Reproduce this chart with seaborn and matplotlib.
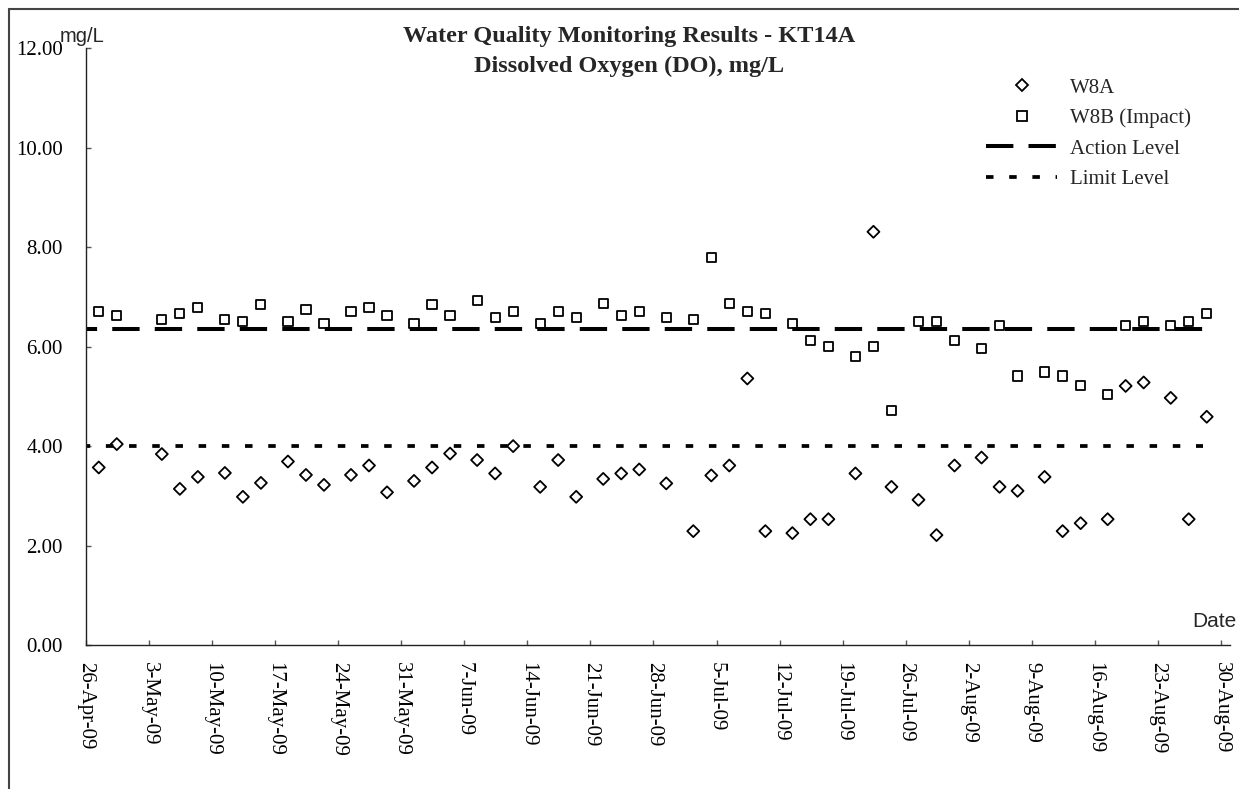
import matplotlib
matplotlib.use("Agg")
import matplotlib.pyplot as plt
from matplotlib.lines import Line2D
import seaborn as sns
import pandas as pd

# ---------------- data ----------------
sample_dates = [
    "2009-04-27", "2009-04-29", "2009-05-04", "2009-05-06", "2009-05-08",
    "2009-05-11", "2009-05-13", "2009-05-15", "2009-05-18", "2009-05-20",
    "2009-05-22", "2009-05-25", "2009-05-27", "2009-05-29", "2009-06-01",
    "2009-06-03", "2009-06-05", "2009-06-08", "2009-06-10", "2009-06-12",
    "2009-06-15", "2009-06-17", "2009-06-19", "2009-06-22", "2009-06-24",
    "2009-06-26", "2009-06-29", "2009-07-02", "2009-07-04", "2009-07-06",
    "2009-07-08", "2009-07-10", "2009-07-13", "2009-07-15", "2009-07-17",
    "2009-07-20", "2009-07-22", "2009-07-24", "2009-07-27", "2009-07-29",
    "2009-07-31", "2009-08-03", "2009-08-05", "2009-08-07", "2009-08-10",
    "2009-08-12", "2009-08-14", "2009-08-17", "2009-08-19", "2009-08-21",
    "2009-08-24", "2009-08-26", "2009-08-28",
]
sampling_time = "10:00"

w8a_do = [
    3.57, 4.04, 3.84, 3.14, 3.38, 3.46, 2.98, 3.26, 3.69, 3.42,
    3.22, 3.42, 3.61, 3.07, 3.30, 3.57, 3.85, 3.72, 3.45, 4.00,
    3.18, 3.72, 2.98, 3.34, 3.45, 3.53, 3.25, 2.29, 3.41, 3.61,
    5.36, 2.29, 2.25, 2.53, 2.53, 3.45, 8.31, 3.18, 2.92, 2.21,
    3.61, 3.77, 3.18, 3.10, 3.38, 2.29, 2.45, 2.53, 5.21, 5.28,
    4.97, 2.53, 4.59,
]
w8b_do = [
    6.70, 6.62, 6.55, 6.66, 6.78, 6.55, 6.51, 6.85, 6.51, 6.74,
    6.47, 6.70, 6.78, 6.62, 6.47, 6.85, 6.62, 6.92, 6.58, 6.70,
    6.47, 6.70, 6.58, 6.86, 6.62, 6.70, 6.58, 6.54, 7.79, 6.86,
    6.70, 6.67, 6.47, 6.12, 6.00, 5.80, 6.00, 4.72, 6.50, 6.50,
    6.12, 5.96, 6.43, 5.41, 5.49, 5.41, 5.22, 5.03, 6.43, 6.50,
    6.43, 6.50, 6.66,
]

action_level = 6.36
limit_level = 4.00
level_span = ["2009-04-26", "2009-08-28"]

tick_labels = [
    "26-Apr-09", "3-May-09", "10-May-09", "17-May-09", "24-May-09",
    "31-May-09", "7-Jun-09", "14-Jun-09", "21-Jun-09", "28-Jun-09",
    "5-Jul-09", "12-Jul-09", "19-Jul-09", "26-Jul-09", "2-Aug-09",
    "9-Aug-09", "16-Aug-09", "23-Aug-09", "30-Aug-09",
]
x_limits = ["2009-04-26", "2009-08-31"]
y_ticks = [0, 2, 4, 6, 8, 10, 12]

series_names = ["W8A", "W8B (Impact)"]
level_names = ["Action Level", "Limit Level"]

# ---------------- figure ----------------
sns.set_theme(style="ticks")
plt.rcParams["font.family"] = ["Liberation Serif", "DejaVu Serif"]
plt.rcParams["lines.scale_dashes"] = False

W, H = 1239, 789
fig = plt.figure(figsize=(W / 100, H / 100), dpi=100)
fig.patch.set_facecolor("white")

ax_left, ax_right, ax_bottom, ax_top = 86, 1230, 645, 48.3
ax = fig.add_axes([ax_left / W, 1 - ax_bottom / H,
                   (ax_right - ax_left) / W, (ax_bottom - ax_top) / H])
ax.set_facecolor("white")

df = pd.DataFrame({
    "date": pd.to_datetime([f"{d} {sampling_time}" for d in sample_dates]),
    series_names[0]: w8a_do,
    series_names[1]: w8b_do,
})

diamond_ms = 6.1
square_ms = 6.6
mew = 1.3

# level lines
span = pd.to_datetime(level_span)
ax.plot(span, [action_level] * 2, color="black", lw=2.9,
        linestyle=(11.7, (19.7, 10.9)), solid_capstyle="butt",
        dash_capstyle="butt", zorder=2)
ax.plot(span, [limit_level] * 2, color="black", lw=2.7,
        linestyle=(2.4, (5.4, 11.3)), solid_capstyle="butt",
        dash_capstyle="butt", zorder=2)

sns.scatterplot(data=df, x="date", y=series_names[0], marker="D",
                s=diamond_ms ** 2, facecolor="none", edgecolor="black",
                linewidth=mew, ax=ax, zorder=4, legend=False)
sns.scatterplot(data=df, x="date", y=series_names[1], marker="s",
                s=square_ms ** 2, facecolor="none", edgecolor="black",
                linewidth=mew, ax=ax, zorder=4, legend=False)

# axes formatting
ax.set_xlim(pd.to_datetime(x_limits))
ax.set_ylim(y_ticks[0], y_ticks[-1])
tick_pos = pd.to_datetime(tick_labels, format="%d-%b-%y")
ax.set_xticks(tick_pos)
ax.set_xticklabels(tick_labels, rotation=-90, fontsize=15, color="black")
ax.set_yticks(y_ticks)
ax.set_yticklabels([f"{v:.2f}" for v in y_ticks], fontsize=15, color="black")
ax.set_xlabel("")
ax.set_ylabel("")
ax.grid(False)

for side in ("top", "right"):
    ax.spines[side].set_visible(False)
for side in ("left", "bottom"):
    ax.spines[side].set_color("#222222")
    ax.spines[side].set_linewidth(1.0)

ax.tick_params(axis="both", direction="in", length=3.6, width=1.0,
               color="#555555")
ax.tick_params(axis="y", pad=16.6)
ax.tick_params(axis="x", pad=12)

# legend
handles = [
    Line2D([], [], marker="D", ms=diamond_ms, mfc="none", mec="black",
           mew=mew, linestyle="none"),
    Line2D([], [], marker="s", ms=square_ms, mfc="none", mec="black",
           mew=mew, linestyle="none"),
    Line2D([], [], color="black", lw=2.9, linestyle=(0, (19.7, 10.9)),
           dash_capstyle="butt"),
    Line2D([], [], color="black", lw=2.7, linestyle=(0, (5.4, 11.3)),
           dash_capstyle="butt"),
]
leg = ax.legend(handles, series_names + level_names, loc="upper left",
                bbox_to_anchor=(986 / W, 1 - 78 / H),
                bbox_transform=fig.transFigure, frameon=False,
                fontsize=15, handlelength=3.41, handletextpad=0.62,
                labelspacing=0.52, borderpad=0, borderaxespad=0,
                numpoints=1)

# texts
fig.text(629 / W, 1 - 41.7 / H, "Water Quality Monitoring Results - KT14A",
         ha="center", va="baseline", fontsize=17.5, fontweight="bold")
fig.text(629 / W, 1 - 71.7 / H, "Dissolved Oxygen (DO), mg/L",
         ha="center", va="baseline", fontsize=17.5, fontweight="bold")
fig.text(60 / W, 1 - 41.7 / H, "mg/L", ha="left", va="baseline",
         fontsize=14.5, family=["Liberation Sans", "DejaVu Sans"])
fig.text(1236 / W, 1 - 626.7 / H, "Date", ha="right", va="baseline",
         fontsize=15, family=["Liberation Sans", "DejaVu Sans"])

# outer chart frame (left and top edges visible)
fig.add_artist(Line2D([9 / W, 9 / W], [0, 1 - 9 / H],
                      transform=fig.transFigure, color="#444444", lw=1.5))
fig.add_artist(Line2D([9 / W, 1], [1 - 9 / H, 1 - 9 / H],
                      transform=fig.transFigure, color="#444444", lw=1.5))

fig.savefig("out.png", dpi=100, facecolor="white")
